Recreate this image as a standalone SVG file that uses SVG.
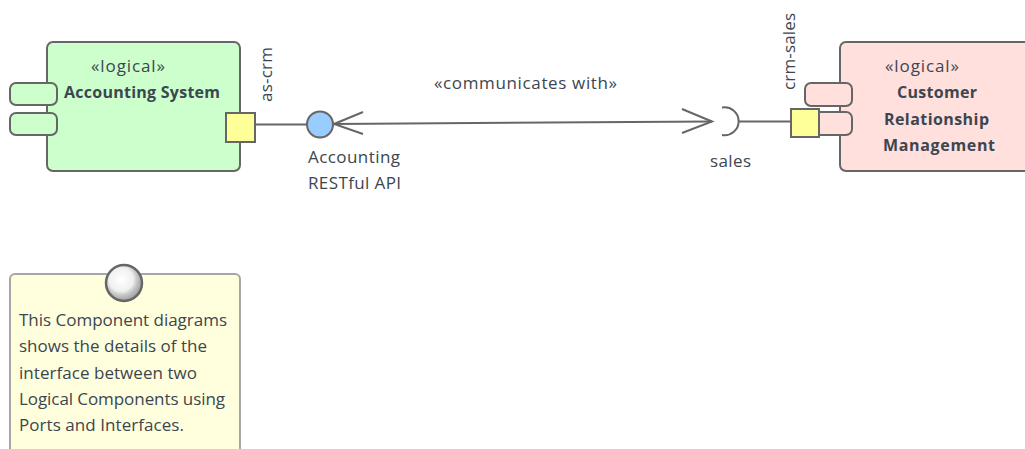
<svg xmlns="http://www.w3.org/2000/svg" width="1025" height="449" viewBox="0 0 1025 449">
<defs>
<radialGradient id="ball" cx="0.42" cy="0.4" r="0.6">
<stop offset="0" stop-color="#ffffff"/><stop offset="0.55" stop-color="#f0f0f0"/><stop offset="0.75" stop-color="#c4c4c4"/><stop offset="1" stop-color="#a0a0a0"/>
</radialGradient>
</defs>
<style>
.o{stroke:#666;stroke-width:2}
.t{font-family:"Open Sans","Noto Sans",sans-serif;font-size:17px;fill:#3c4650}
.b{font-size:16px;font-weight:700}
.c{fill:none;stroke:#666;stroke-width:2}
.g{fill:#ccffcc}.p{fill:#ffe0dd}.y{fill:#ffff99}
</style>
<g id="connectors">
<path class="c" d="M255 124.500H307"/>
<path class="c" d="M333 124L712 121.500"/>
<path class="c" d="M363 112L334 124L363 134"/>
<path class="c" d="M682 109L712 121.500L682 133"/>
<path class="c" d="M722 107.500A14 14 0 1 1 722 135"/>
<path class="c" d="M739 121.500H791"/>
</g>
<g id="accounting-system">
<rect class="o g" x="47" y="42" width="193" height="129" rx="6"/>
<rect class="o g" x="10" y="83" width="47" height="22" rx="6"/>
<rect class="o g" x="10" y="113" width="47" height="22" rx="6"/>
<text class="t" x="91" y="72" textLength="74">«logical»</text>
<text class="t b" x="64" y="98" textLength="156">Accounting System</text>
</g>
<g id="as-crm-port">
<rect class="o y" x="226" y="113" width="29" height="29"/>
<text class="t" transform="translate(272 102) rotate(-90)" textLength="55">as-crm</text>
</g>
<g id="accounting-api">
<circle cx="320" cy="124.500" r="13" fill="#99ccff" stroke="#666" stroke-width="2"/>
<text class="t" x="308" y="163" textLength="92">Accounting</text>
<text class="t" x="308" y="189" textLength="93">RESTful API</text>
</g>
<g id="communicates-label">
<text class="t" x="434" y="89" textLength="183">«communicates with»</text>
</g>
<g id="sales">
<text class="t" x="710" y="167" textLength="41">sales</text>
</g>
<g id="crm">
<rect class="o p" x="840" y="42" width="195" height="129" rx="6"/>
<rect class="o p" x="805" y="83" width="47" height="23" rx="6"/>
<rect class="o p" x="805" y="112" width="47" height="23" rx="6"/>
<text class="t" x="885" y="72" textLength="74">«logical»</text>
<text class="t b" x="897" y="98" textLength="80">Customer</text>
<text class="t b" x="884" y="125" textLength="105">Relationship</text>
<text class="t b" x="883" y="151" textLength="112">Management</text>
</g>
<g id="crm-sales-port">
<rect class="o y" x="791" y="109" width="28" height="28"/>
<text class="t" transform="translate(795 90) rotate(-90)" textLength="77">crm-sales</text>
</g>
<g id="note">
<path d="M10 449V279a5 5 0 0 1 5-5H235a5 5 0 0 1 5 5V449" fill="#ffffdd" stroke="#a6a6a6" stroke-width="2"/>
<circle cx="124" cy="283" r="18" fill="url(#ball)" stroke="#666" stroke-width="2.500"/>
<text class="t" x="19" y="326" textLength="208">This Component diagrams</text>
<text class="t" x="19" y="352" textLength="188">shows the details of the</text>
<text class="t" x="19" y="379" textLength="178">interface between two</text>
<text class="t" x="19" y="405" textLength="206">Logical Components using</text>
<text class="t" x="19" y="431" textLength="165">Ports and Interfaces.</text>
</g>
</svg>
